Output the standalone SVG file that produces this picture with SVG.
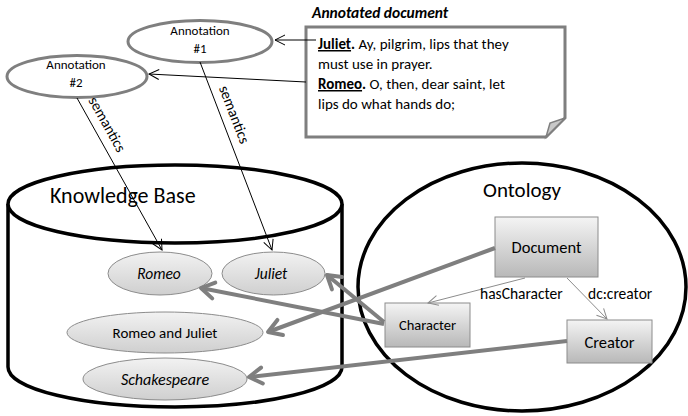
<svg xmlns="http://www.w3.org/2000/svg" width="688" height="416" viewBox="0 0 688 416">
<defs>
<style>
text{font-family:Carlito,Calibri,Lato,"Open Sans",sans-serif;fill:#000}
.ann{fill:#fff;stroke:#7f7f7f;stroke-width:3}
.kb{fill:url(#eg);stroke:#8c8c8c;stroke-width:1}
.cls{fill:url(#bg);stroke:#8c8c8c;stroke-width:1}
.thin{stroke:#000;stroke-width:1;fill:none}
.thick{stroke:#7f7f7f;stroke-width:4;fill:none}
.rel{stroke:#8c8c8c;stroke-width:1;fill:none}
.big{stroke:#000;stroke-width:3.5;fill:#fff}
</style>
<linearGradient id="eg" x1="0" y1="0" x2="0" y2="1">
<stop offset="0" stop-color="#f2f2f2"/><stop offset="1" stop-color="#cfcfcf"/>
</linearGradient>
<linearGradient id="bg" x1="0" y1="0" x2="0" y2="1">
<stop offset="0" stop-color="#f4f4f4"/><stop offset="1" stop-color="#b8b8b8"/>
</linearGradient>
<marker id="ah" markerUnits="userSpaceOnUse" markerWidth="14" markerHeight="14" refX="11" refY="6" orient="auto" overflow="visible">
<path d="M1,1 L11,6 L1,11" fill="none" stroke="#000" stroke-width="1"/>
</marker>
<marker id="ahg" markerUnits="userSpaceOnUse" markerWidth="14" markerHeight="14" refX="11" refY="6" orient="auto" overflow="visible">
<path d="M1,1 L11,6 L1,11" fill="none" stroke="#8c8c8c" stroke-width="1"/>
</marker>
<marker id="aht" markerUnits="userSpaceOnUse" markerWidth="20" markerHeight="20" refX="15" refY="9" orient="auto" overflow="visible">
<path d="M2,1 L15,9 L2,17" fill="none" stroke="#7f7f7f" stroke-width="4" stroke-linejoin="round" stroke-linecap="round"/>
</marker>
</defs>

<g id="kb-container">
<path class="big" d="M8,204 L8,367 A167,40 0 0 0 342,367 L342,204"/>
<ellipse class="big" cx="175" cy="204" rx="167" ry="39"/>
<text x="50" y="203" font-size="22">Knowledge Base</text>
</g>

<g id="ontology-container">
<ellipse cx="522" cy="287" rx="164" ry="124" fill="#fff" stroke="#000" stroke-width="3.5"/>
<text x="483" y="197" font-size="21">Ontology</text>
</g>

<g id="annotation1">
<ellipse class="ann" cx="200" cy="41.5" rx="72" ry="21"/>
<text x="200" y="35" font-size="13" text-anchor="middle">Annotation</text>
<text x="200" y="53" font-size="13" text-anchor="middle">#1</text>
</g>
<g id="annotation2">
<ellipse class="ann" cx="77" cy="76.5" rx="70" ry="21"/>
<text x="76" y="69" font-size="13" text-anchor="middle">Annotation</text>
<text x="76" y="87" font-size="13" text-anchor="middle">#2</text>
</g>

<g id="document">
<text x="312" y="18" font-size="15.5" font-weight="bold" font-style="italic">Annotated document</text>
<path d="M306,27 L565,27 L565,118 L546,137 L306,137 Z" fill="#fff" stroke="#7f7f7f" stroke-width="3"/>
<path d="M546,137 L550,123 L565,118 Z" fill="#c8c8c8" stroke="#7f7f7f" stroke-width="1.5"/>
<text x="318" y="49" font-size="15"><tspan font-weight="bold" text-decoration="underline">Juliet</tspan><tspan font-weight="bold">.</tspan> Ay, pilgrim, lips that they</text>
<text x="318" y="69" font-size="15">must use in prayer.</text>
<text x="318" y="89" font-size="15"><tspan font-weight="bold" text-decoration="underline">Romeo</tspan><tspan font-weight="bold">.</tspan> O, then, dear saint, let</text>
<text x="318" y="109" font-size="15">lips do what hands do;</text>
</g>

<g id="romeo">
<ellipse class="kb" cx="160" cy="273.5" rx="52" ry="21.5"/>
<text x="159" y="279" font-size="15.5" font-style="italic" text-anchor="middle">Romeo</text>
</g>
<g id="juliet">
<ellipse class="kb" cx="273.5" cy="273.5" rx="51.5" ry="21.5"/>
<text x="271" y="279" font-size="15.5" font-style="italic" text-anchor="middle">Juliet</text>
</g>
<g id="romeo-and-juliet">
<ellipse class="kb" cx="165" cy="332.5" rx="98" ry="20.5"/>
<text x="165" y="338" font-size="15" text-anchor="middle">Romeo and Juliet</text>
</g>
<g id="schakespeare">
<ellipse class="kb" cx="165" cy="379" rx="82" ry="21"/>
<text x="165" y="384.5" font-size="16" font-style="italic" text-anchor="middle">Schakespeare</text>
</g>

<g id="document-class">
<rect class="cls" x="495" y="217" width="103" height="60"/>
<text x="546.5" y="253" font-size="16.5" text-anchor="middle">Document</text>
</g>
<g id="character-class">
<rect class="cls" x="385" y="303" width="85" height="44"/>
<text x="427.5" y="330" font-size="14.5" text-anchor="middle">Character</text>
</g>
<g id="creator-class">
<rect class="cls" x="567" y="320" width="85" height="43"/>
<text x="609.5" y="347.5" font-size="16.5" text-anchor="middle">Creator</text>
</g>

<g id="connectors">
<line class="thin" x1="316" y1="40" x2="275" y2="40" marker-end="url(#ah)"/>
<line class="thin" x1="306" y1="82" x2="149" y2="74" marker-end="url(#ah)"/>
<line class="thin" x1="200" y1="62" x2="272" y2="250" marker-end="url(#ah)"/>
<line class="thin" x1="77" y1="98" x2="162" y2="250" marker-end="url(#ah)"/>
<text transform="translate(233,115) rotate(69)" font-size="15" text-anchor="middle" dominant-baseline="middle">semantics</text>
<text transform="translate(106,125) rotate(60.8)" font-size="15" text-anchor="middle" dominant-baseline="middle">semantics</text>
<line class="rel" x1="525" y1="278" x2="428" y2="303" marker-end="url(#ahg)"/>
<line class="rel" x1="567" y1="278" x2="607" y2="319" marker-end="url(#ahg)"/>
<text x="480" y="299" font-size="15.5">hasCharacter</text>
<text x="588" y="299" font-size="15.5">dc:creator</text>
<line class="thick" x1="384" y1="324" x2="201" y2="288" marker-end="url(#aht)"/>
<line class="thick" x1="384" y1="322" x2="327" y2="275" marker-end="url(#aht)"/>
<line class="thick" x1="495" y1="248" x2="268" y2="332" marker-end="url(#aht)"/>
<line class="thick" x1="567" y1="341" x2="249" y2="377" marker-end="url(#aht)"/>
</g>
</svg>
